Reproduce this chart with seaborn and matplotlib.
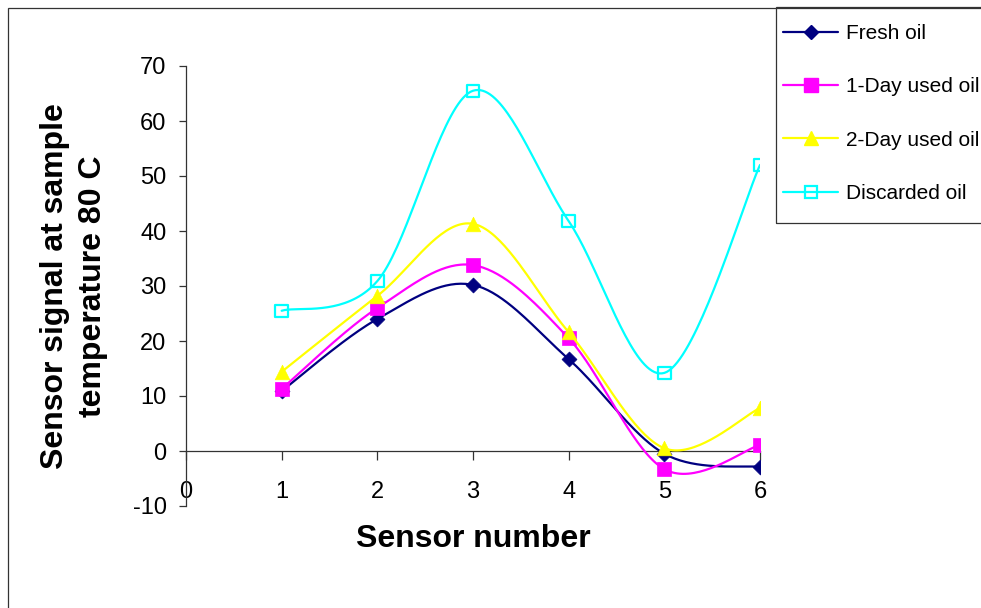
import numpy as np
import pandas as pd
import matplotlib
matplotlib.use("Agg")
import matplotlib.pyplot as plt
import seaborn as sns
from matplotlib.lines import Line2D
from matplotlib.patches import Rectangle

# ---- data ----
sensors = [1, 2, 3, 4, 5, 6]
fresh_oil = [10.9, 24.0, 30.2, 16.7, -0.5, -2.9]
day1_oil = [11.3, 26.0, 33.8, 20.5, -3.3, 1.1]
day2_oil = [14.4, 28.2, 41.3, 21.6, 0.5, 7.8]
discarded_oil = [25.5, 30.9, 65.5, 41.8, 14.2, 52.0]
series_names = ["Fresh oil", "1-Day used oil", "2-Day used oil", "Discarded oil"]
x_ticks = [0, 1, 2, 3, 4, 5, 6]
y_ticks = [-10, 0, 10, 20, 30, 40, 50, 60, 70]

series_values = [fresh_oil, day1_oil, day2_oil, discarded_oil]
colors = ["#000080", "#FF00FF", "#FFFF00", "#00FFFF"]
markers = ["D", "s", "^", "s"]
msizes = [7.6, 9.4, 10.5, 9.0]
filled = [True, True, True, False]


def smooth(xs, ys, n=40):
    """Excel-like smoothed line: cubic Bezier segments with Catmull-Rom controls."""
    pts = np.column_stack([xs, ys]).astype(float)
    out = []
    m = len(pts)
    for i in range(m - 1):
        p0 = pts[i - 1] if i > 0 else pts[i]
        p1 = pts[i]
        p2 = pts[i + 1]
        p3 = pts[i + 2] if i + 2 < m else pts[i + 1]
        c1 = p1 + (p2 - p0) / 6.0
        c2 = p2 - (p3 - p1) / 6.0
        t = np.linspace(0, 1, n)[:, None]
        seg = ((1 - t) ** 3) * p1 + 3 * ((1 - t) ** 2) * t * c1 + 3 * (1 - t) * t ** 2 * c2 + t ** 3 * p2
        if i > 0:
            seg = seg[1:]
        out.append(seg)
    out = np.vstack(out)
    return out[:, 0], out[:, 1]


sns.set_theme(style="white")
plt.rcParams["font.family"] = ["Liberation Sans", "DejaVu Sans"]
plt.rcParams["text.color"] = "black"
plt.rcParams["axes.labelcolor"] = "black"
plt.rcParams["xtick.color"] = "black"
plt.rcParams["ytick.color"] = "black"

fig = plt.figure(figsize=(9.81, 6.08), dpi=100)
W, H = 981, 608
ax = fig.add_axes([186 / W, 1 - 506 / H, (760 - 186) / W, (506 - 66) / H])

for k, (name, vals) in enumerate(zip(series_names, series_values)):
    sx, sy = smooth(sensors, vals)
    sns.lineplot(x=sx, y=sy, ax=ax, color=colors[k], linewidth=1.6,
                 sort=False, estimator=None, zorder=2 + k)
    df = pd.DataFrame({"x": sensors, "y": vals})
    if filled[k]:
        sns.scatterplot(data=df, x="x", y="y", ax=ax, marker=markers[k],
                        s=msizes[k] ** 2, color=colors[k], edgecolor=colors[k],
                        linewidth=0.5, zorder=2.5 + k)
    else:
        sns.scatterplot(data=df, x="x", y="y", ax=ax, marker=markers[k],
                        s=msizes[k] ** 2, facecolor="none", edgecolor=colors[k],
                        linewidth=1.6, zorder=2.5 + k)

ax.set_xlim(0, 6)
ax.set_ylim(-10, 70)
ax.set_xticks(x_ticks)
ax.set_yticks(y_ticks)
ax.set_xticklabels([str(v) for v in x_ticks])
ax.set_yticklabels([str(v) for v in y_ticks])

for s in ["top", "right"]:
    ax.spines[s].set_visible(False)
ax.spines["bottom"].set_position(("data", 0))
ax.spines["left"].set_color("#333333")
ax.spines["bottom"].set_color("#333333")
ax.spines["left"].set_linewidth(0.9)
ax.spines["bottom"].set_linewidth(0.9)
ax.tick_params(axis="x", direction="out", length=6.5, width=0.9, color="#333333",
               pad=15, labelsize=17, labelcolor="black", bottom=True)
ax.tick_params(axis="y", direction="out", length=5, width=0.9, color="#333333",
               pad=9, labelsize=17, labelcolor="black", left=True)
ax.set_facecolor("white")
ax.grid(False)

ax.set_xlabel("Sensor number", fontsize=23, fontweight="bold", color="black")
ax.xaxis.set_label_coords(0.5, -0.04)
ax.xaxis.label.set_va("top")
ax.set_ylabel("Sensor signal at sample\ntemperature 80 C", fontsize=23,
              fontweight="bold", linespacing=1.35, color="black")
ax.yaxis.set_label_coords((108 - 186) / (760 - 186), 0.5)

handles = []
for k, name in enumerate(series_names):
    if filled[k]:
        h = Line2D([0], [0], color=colors[k], linewidth=1.6, marker=markers[k],
                   markersize=msizes[k], markerfacecolor=colors[k], markeredgecolor=colors[k])
    else:
        h = Line2D([0], [0], color=colors[k], linewidth=1.6, marker=markers[k],
                   markersize=msizes[k], markerfacecolor="none", markeredgecolor=colors[k],
                   markeredgewidth=1.6)
    handles.append(h)

leg = fig.legend(handles, series_names, loc="upper left",
                 bbox_to_anchor=(783 / W, 1 - 24 / H), bbox_transform=fig.transFigure,
                 borderaxespad=0, fontsize=15, frameon=False,
                 handlelength=2.65, handletextpad=0.35,
                 labelspacing=1.65, borderpad=0)

# legend box (extends past the right edge like the reference)
fig.patches.append(Rectangle((776 / W, 1 - 223 / H), 0.5, (223 - 7) / H,
                             transform=fig.transFigure, fill=False,
                             edgecolor="#333333", linewidth=0.9, zorder=1))
# outer chart border (partially outside the image)
fig.patches.append(Rectangle((8 / W, -0.2), 1.2, 1.2 - 8 / H, transform=fig.transFigure,
                             fill=False, edgecolor="#333333", linewidth=0.9, zorder=0))

fig.savefig("out.png", dpi=100, facecolor="white")
